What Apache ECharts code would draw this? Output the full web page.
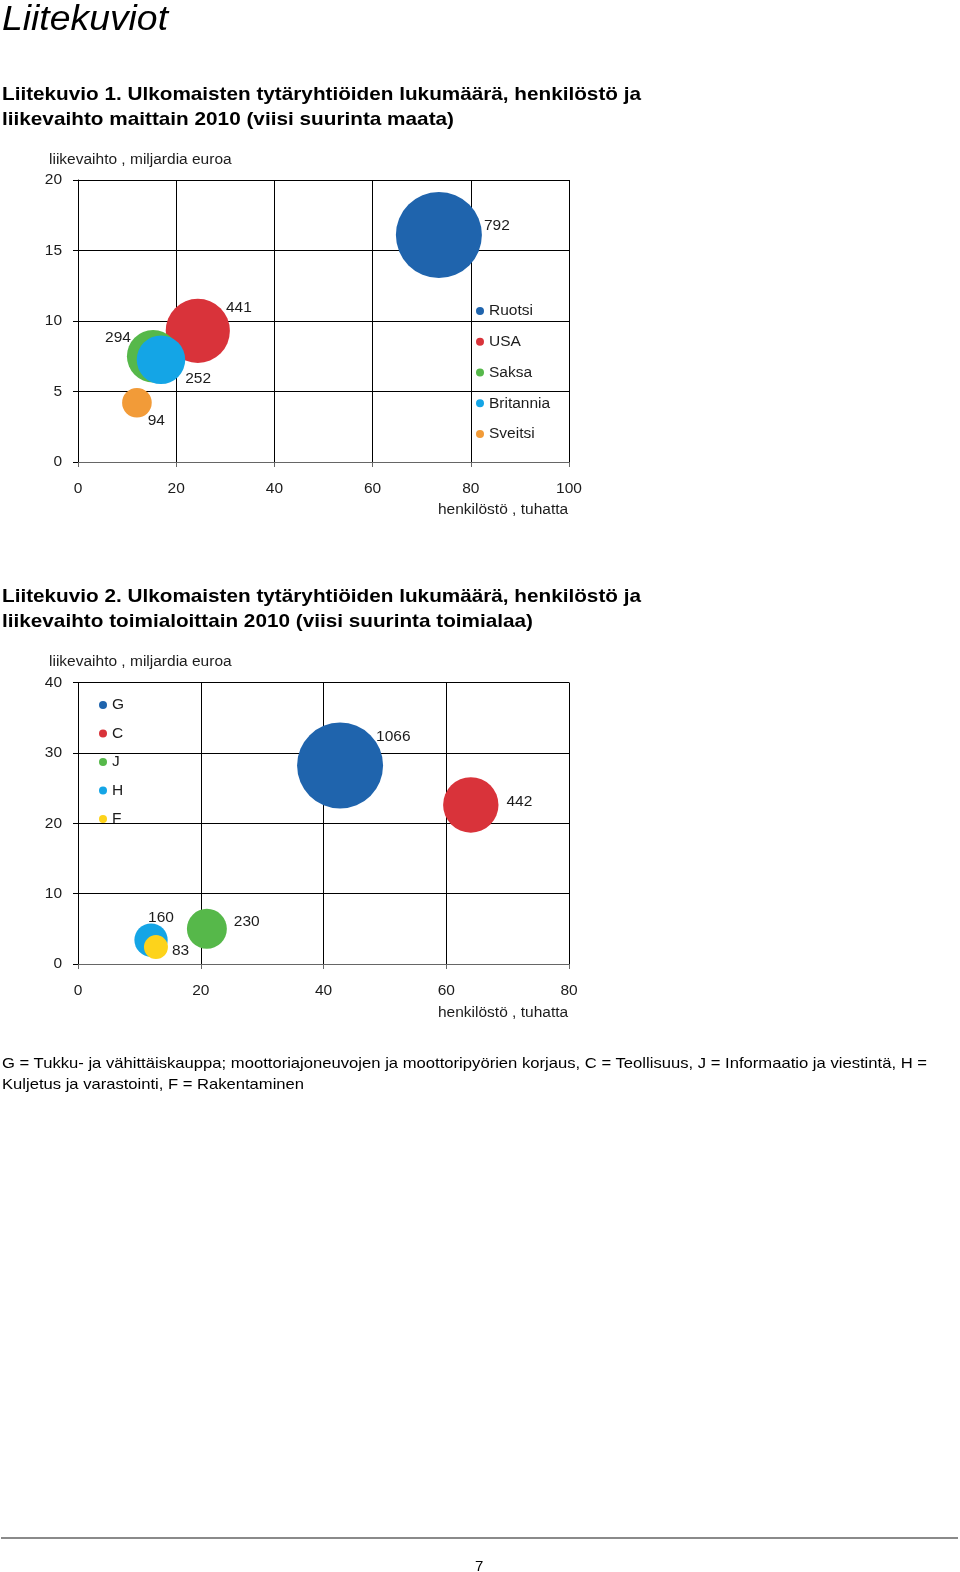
<!DOCTYPE html>
<html><head><meta charset="utf-8">
<script src="https://cdn.jsdelivr.net/npm/echarts@6/dist/echarts.min.js"></script>
<style>
html,body{margin:0;padding:0;background:#fff;}
#wrap{position:relative;width:960px;height:1572px;overflow:hidden;background:#fff;}
#chart{position:absolute;left:0;top:0;width:960px;height:1572px;}
.t{position:absolute;left:2px;white-space:nowrap;font-family:"Liberation Sans",Arial,sans-serif;color:#000;transform-origin:0 50%;line-height:1;}
.b{font-weight:bold;font-size:19px;}
.f{font-size:15px;}
#rule{position:absolute;left:1px;top:1537px;width:957px;height:2px;background:#8a8a8a;}
</style></head><body>
<div id="wrap">
<div id="chart"></div>
<div class="t" data-w="166" style="top:0px;font-size:35px;font-style:italic">Liitekuviot</div>
<div class="t b" data-w="639" style="top:84px">Liitekuvio 1. Ulkomaisten tytäryhtiöiden lukumäärä, henkilöstö ja</div>
<div class="t b" data-w="452" style="top:109px">liikevaihto maittain 2010 (viisi suurinta maata)</div>
<div class="t b" data-w="639" style="top:586px">Liitekuvio 2. Ulkomaisten tytäryhtiöiden lukumäärä, henkilöstö ja</div>
<div class="t b" data-w="531" style="top:611px">liikevaihto toimialoittain 2010 (viisi suurinta toimialaa)</div>
<div class="t f" data-w="925" style="top:1055px">G = Tukku- ja vähittäiskauppa; moottoriajoneuvojen ja moottoripyörien korjaus, C = Teollisuus, J = Informaatio ja viestintä, H =</div>
<div class="t f" data-w="302" style="top:1076px">Kuljetus ja varastointi, F = Rakentaminen</div>
<div id="rule"></div>
<div class="t f" style="top:1558px;left:475px">7</div>
</div>
<script>
// ---- Data: chart 1 (countries) ----
const countries = ['Ruotsi', 'USA', 'Saksa', 'Britannia', 'Sveitsi'];
const countryStaff = [73.5, 24.4, 15.3, 16.9, 12.0];      // henkilöstö, tuhatta
const countryTurnover = [16.1, 9.3, 7.5, 7.25, 4.2];       // liikevaihto, mrd euroa
const countryCount = [792, 441, 294, 252, 94];              // tytäryhtiöiden lukumäärä

// ---- Data: chart 2 (industries) ----
const industries = ['G', 'C', 'J', 'H', 'F'];
const industryStaff = [42.7, 64.0, 21.0, 11.9, 12.7];
const industryTurnover = [28.2, 22.6, 5.0, 3.4, 2.4];
const industryCount = [1066, 442, 230, 160, 83];

// ---- Axis ticks ----
const xTicks1 = [0, 20, 40, 60, 80, 100];
const yTicks1 = [0, 5, 10, 15, 20];
const xTicks2 = [0, 20, 40, 60, 80];
const yTicks2 = [0, 10, 20, 30, 40];

const yName = 'liikevaihto , miljardia euroa';
const xName = 'henkilöstö , tuhatta';

// ---- Styles ----
const colors = ['#1f64ad', '#d9333a', '#56b84a', '#14a5e6', '#f29b38'];
const colors2 = ['#1f64ad', '#d9333a', '#56b84a', '#14a5e6', '#fdd31b'];
const labelLayout1 = [['right', [-3, -9]], ['right', [-9, -23]], ['left', [9, -19]], ['right', [-5, 19]], ['right', [-9, 18]]];
const labelLayout2 = [['right', [-12, -29]], ['right', [3, -3]], ['right', [2, -7]], ['top', [10, 7]], ['right', [-1, 4]]];
const FONT = '"Liberation Sans", Arial, sans-serif';
const FS = 15.5;
const TXT = '#1c1c1c';
const MAXD = 86;

function axes(ticks, gridIndex, isX) {
  return {
    type: 'value', gridIndex,
    min: ticks[0], max: ticks[ticks.length - 1], interval: ticks[1] - ticks[0],
    axisLine: { show: true, onZero: false, lineStyle: { color: isX ? '#666' : '#000', width: 1 } },
    axisTick: { show: true, length: 5, lineStyle: { color: isX ? '#666' : '#000' } },
    axisLabel: { color: TXT, fontSize: FS, fontFamily: FONT, margin: isX ? 19 : 16, padding: isX ? 0 : [4, 0, 0, 0] },
    splitLine: { show: true, lineStyle: { color: '#000', width: 1 } }
  };
}

function buildSeries(names, xs, ys, counts, cols, layout, idx) {
  const maxC = Math.max(...counts);
  return names.map((n, i) => ({
    name: n, type: 'scatter', xAxisIndex: idx, yAxisIndex: idx,
    data: [[xs[i], ys[i], counts[i]]],
    symbol: 'circle',
    symbolSize: v => MAXD * Math.sqrt(v[2] / maxC),
    itemStyle: { color: cols[i], opacity: 1 },
    emphasis: { disabled: true },
    label: {
      show: true, formatter: p => String(p.value[2]),
      position: layout[i][0], offset: layout[i][1], distance: 5,
      color: TXT, fontSize: FS, fontFamily: FONT
    },
    z: 3
  }));
}

function legend(names, cols, left, top, gap) {
  return {
    orient: 'vertical', left, top, itemGap: gap, itemWidth: 8, itemHeight: 8,
    icon: 'circle', padding: 0,
    data: names.map((n, i) => ({ name: n, itemStyle: { color: cols[i] } })),
    textStyle: { color: TXT, fontSize: FS, fontFamily: FONT, lineHeight: 16, padding: [0, 0, 0, 0] },
    selectedMode: false
  };
}

const nameStyle = { color: TXT, fontSize: FS, fontWeight: 'normal', fontFamily: FONT, lineHeight: 16 };
const chart = echarts.init(document.getElementById('chart'), null, { renderer: 'canvas' });
chart.setOption({
  animation: false,
  color: colors,
  title: [
    { text: yName, left: 49, top: 152, padding: 0, textStyle: nameStyle },
    { text: xName, left: 438, top: 502, padding: 0, textStyle: nameStyle },
    { text: yName, left: 49, top: 654, padding: 0, textStyle: nameStyle },
    { text: xName, left: 438, top: 1005, padding: 0, textStyle: nameStyle }
  ],
  grid: [
    { left: 78, top: 180, width: 491, height: 282 },
    { left: 78, top: 682.5, width: 491, height: 281.5 }
  ],
  xAxis: [axes(xTicks1, 0, true), axes(xTicks2, 1, true)],
  yAxis: [axes(yTicks1, 0, false), axes(yTicks2, 1, false)],
  legend: [
    legend(countries, colors, 476, 303, 14.75),
    legend(industries, colors2, 99, 697, 12.5)
  ],
  series: [
    ...buildSeries(countries, countryStaff, countryTurnover, countryCount, colors, labelLayout1, 0),
    ...buildSeries(industries, industryStaff, industryTurnover, industryCount, colors2, labelLayout2, 1)
  ]
});

function fit() {
  document.querySelectorAll('[data-w]').forEach(el => {
    el.style.transform = 'none';
    const w = el.getBoundingClientRect().width;
    el.style.transform = 'scaleX(' + (parseFloat(el.dataset.w) / w) + ')';
  });
}
fit();
</script>
</body></html>
